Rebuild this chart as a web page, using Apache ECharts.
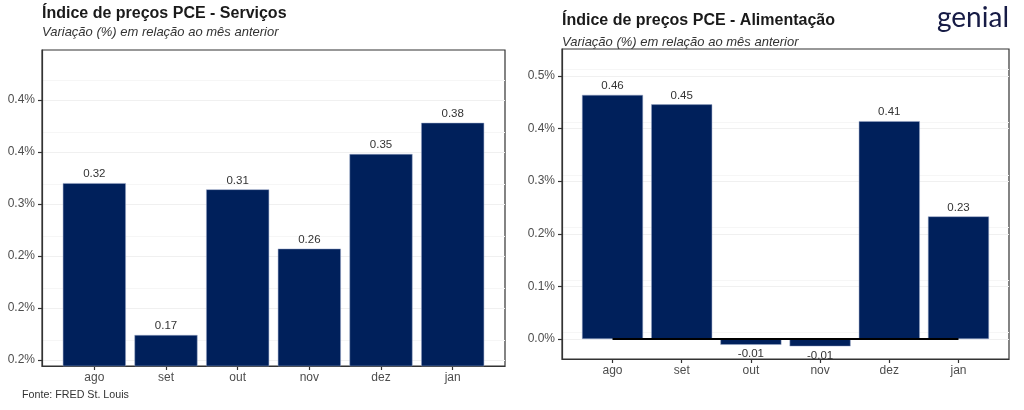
<!DOCTYPE html>
<html>
<head>
<meta charset="utf-8">
<script src="https://cdn.jsdelivr.net/npm/echarts@6/dist/echarts.min.js"></script>
<style>html,body{margin:0;padding:0;background:#fff}#c{width:1024px;height:410px}</style>
</head>
<body>
<div id="c"></div>
<script>
const categories = ["ago", "set", "out", "nov", "dez", "jan"];
const servicosValues = [0.320, 0.174, 0.314, 0.257, 0.348, 0.378];
const alimentacaoValues = [0.464, 0.446, -0.011, -0.014, 0.414, 0.233];
const servicosTickValues = [0.15, 0.20, 0.25, 0.30, 0.35, 0.40];
const servicosTickLabels = ["0.2%", "0.2%", "0.2%", "0.3%", "0.4%", "0.4%"];
const alimentacaoTickValues = [0.0, 0.1, 0.2, 0.3, 0.4, 0.5];
const alimentacaoTickLabels = ["0.0%", "0.1%", "0.2%", "0.3%", "0.4%", "0.5%"];
const zeroLine = [0, 0, 0, 0, 0, 0];

const FONT = "'Liberation Sans', Arial, sans-serif";
const BAR = '#00205b';
const idx = categories.map((c, i) => i);

function tickFmt(vals, labels) {
  return function (v) {
    for (let i = 0; i < vals.length; i++) if (Math.abs(vals[i] - v) < 1e-6) return labels[i];
    return '';
  };
}
function barData(vals) {
  return vals.map((v, i) => ({
    value: [i, v],
    label: { position: v < 0 ? 'bottom' : 'top' }
  }));
}
function xAxisCfg(gi) {
  return {
    type: 'value', gridIndex: gi, min: -0.73, max: 5.73,
    axisLine: { show: true, onZero: false, lineStyle: { color: '#333', width: 1.2 } },
    axisTick: { show: true, customValues: idx, length: 4, lineStyle: { color: '#333', width: 1.2 } },
    axisLabel: { customValues: idx, color: '#4d4d4d', fontSize: 12, fontFamily: FONT, margin: 6,
      formatter: v => categories[Math.round(v)] },
    splitLine: { show: false }
  };
}
function yAxisCfg(gi, min, max, interval, vals, labels) {
  return {
    type: 'value', gridIndex: gi, min: min, max: max, interval: interval,
    axisLine: { show: true, onZero: false, lineStyle: { color: '#333', width: 1.2 } },
    axisTick: { show: true, customValues: vals, length: 4, lineStyle: { color: '#333', width: 1.2 } },
    axisLabel: { customValues: vals, color: '#4d4d4d', fontSize: 12, fontFamily: FONT, margin: 7,
      formatter: tickFmt(vals, labels) },
    splitLine: { show: true, lineStyle: { color: '#f0f0f0', width: 1 } },
    minorSplitLine: { show: true, lineStyle: { color: '#f6f6f6', width: 1 } },
    minorTick: { show: false, splitNumber: 2 }
  };
}
const labelCfg = { show: true, color: '#333', fontSize: 11.5, fontFamily: FONT, distance: 3,
  formatter: p => p.value[1].toFixed(2) };

const chart = echarts.init(document.getElementById('c'), null, { renderer: 'canvas' });
chart.setOption({
  animation: false,
  backgroundColor: '#fff',
  title: [
    { text: 'Índice de preços PCE - Serviços', left: 42, top: 6, padding: 0,
      textStyle: { fontFamily: FONT, fontSize: 16, fontWeight: 'bold', color: '#1a1a1a' } },
    { text: 'Variação (%) em relação ao mês anterior', left: 42, top: 26, padding: 0,
      textStyle: { fontFamily: FONT, fontSize: 13, fontStyle: 'italic', fontWeight: 'normal', color: '#333' } },
    { text: 'Índice de preços PCE - Alimentação', left: 562, top: 13, padding: 0,
      textStyle: { fontFamily: FONT, fontSize: 16, fontWeight: 'bold', color: '#1a1a1a' } },
    { text: 'Variação (%) em relação ao mês anterior', left: 562, top: 36, padding: 0,
      textStyle: { fontFamily: FONT, fontSize: 13, fontStyle: 'italic', fontWeight: 'normal', color: '#333' } },
    { text: 'Fonte: FRED St. Louis', left: 22, top: 390, padding: 0,
      textStyle: { fontFamily: FONT, fontSize: 10.7, fontWeight: 'normal', color: '#333' } },
    { text: 'genial', left: 937, top: 4, padding: 0,
      textStyle: { fontFamily: "'Lato', 'Open Sans', sans-serif", fontSize: 28, fontWeight: 'normal', color: '#161b45' } }
  ],
  grid: [
    { left: 42, right: 519, top: 50, bottom: 44, show: true, borderColor: '#333', borderWidth: 1.2, backgroundColor: '#fff' },
    { left: 562, right: 15, top: 49, bottom: 51, show: true, borderColor: '#333', borderWidth: 1.2, backgroundColor: '#fff' }
  ],
  xAxis: [xAxisCfg(0), xAxisCfg(1)],
  yAxis: [
    yAxisCfg(0, 0.1442, 0.448, 0.05, servicosTickValues, servicosTickLabels),
    yAxisCfg(1, -0.038, 0.5512, 0.1, alimentacaoTickValues, alimentacaoTickLabels)
  ],
  series: [
    { type: 'bar', xAxisIndex: 0, yAxisIndex: 0, barWidth: 63, data: barData(servicosValues),
      itemStyle: { color: BAR, borderColor: '#9aa8c8', borderWidth: 0.5 }, label: labelCfg, z: 2 },
    { type: 'bar', xAxisIndex: 1, yAxisIndex: 1, barWidth: 61, data: barData(alimentacaoValues),
      itemStyle: { color: BAR, borderColor: '#9aa8c8', borderWidth: 0.5 }, label: labelCfg, z: 2 },
    { type: 'line', xAxisIndex: 1, yAxisIndex: 1, data: zeroLine.map((v, i) => [i, v]),
      symbol: 'none', lineStyle: { color: '#000', width: 2 }, z: 3, silent: true }
  ]
});
</script>
</body>
</html>
